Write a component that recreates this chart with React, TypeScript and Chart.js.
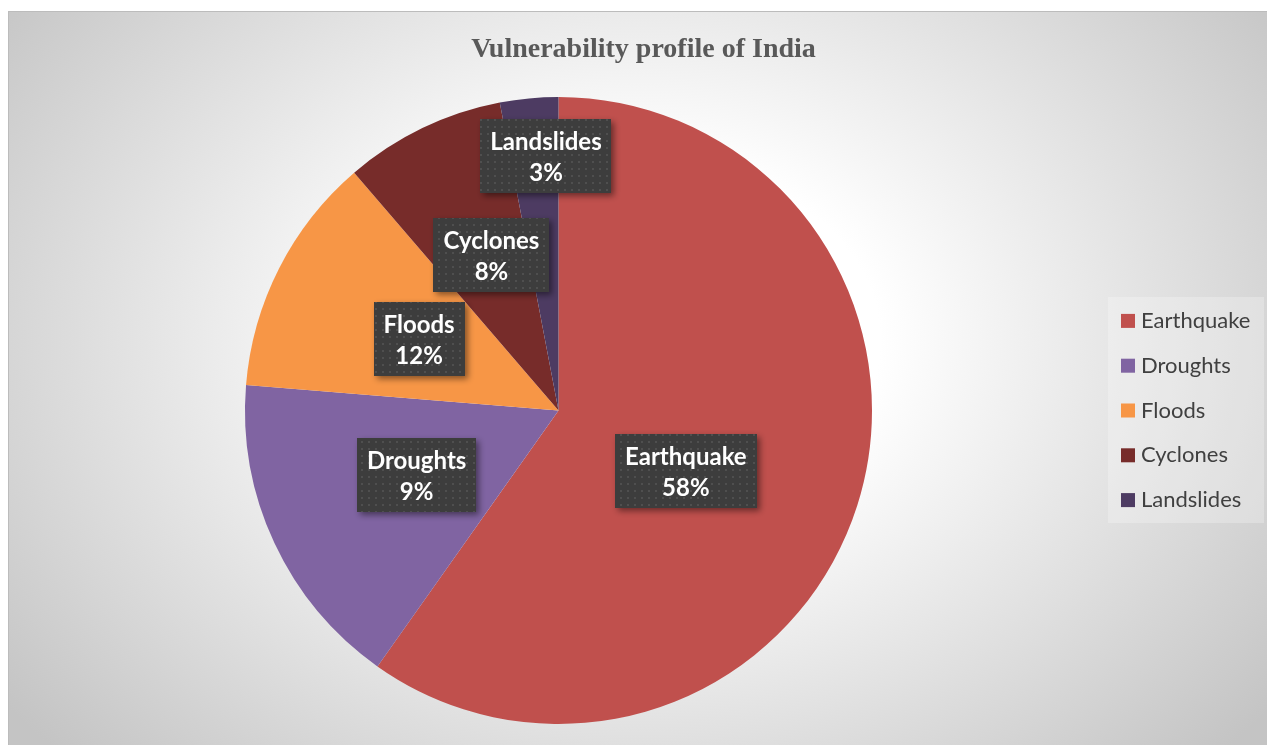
import React, { useEffect, useRef } from "react";
import { Chart, registerables } from "chart.js";

Chart.register(...registerables);

// ---- data ----
const categories = ["Earthquake", "Droughts", "Floods", "Cyclones", "Landslides"];
const sliceValues = [59.8, 16.5, 12.4, 8.3, 3.0];
const percentLabels = ["58%", "9%", "12%", "8%", "3%"];
const sliceColors = ["#c0504d", "#8064a2", "#f79646", "#772c2a", "#4d3b62"];
const chartTitle = "Vulnerability profile of India";

// ---- layout (not data) ----
const CANVAS_W = 1259;
const CANVAS_H = 734;
const labelRadial = [0.449, 0.497, 0.499, 0.54, 0.814];
const labelAngleShift = [7.6, 0.6, 0.0, 2.4, 2.6];

function makePattern(ctx: CanvasRenderingContext2D) {
  const c = document.createElement("canvas");
  c.width = 7;
  c.height = 7;
  const g = c.getContext("2d")!;
  g.fillStyle = "#3d3d3d";
  g.fillRect(0, 0, 7, 7);
  g.fillStyle = "#4f4f4f";
  g.fillRect(3, 3, 2, 2);
  return ctx.createPattern(c, "repeat")!;
}

const titlePlugin = {
  id: "customTitle",
  afterDraw(chart: any) {
    const ctx = chart.ctx as CanvasRenderingContext2D;
    ctx.save();
    ctx.font = 'bold 28px "Liberation Serif"';
    ctx.fillStyle = "#595959";
    ctx.textAlign = "center";
    ctx.textBaseline = "alphabetic";
    ctx.fillText(chartTitle, 635.5, 46);
    ctx.restore();
  },
};

const legendPlugin = {
  id: "customLegend",
  afterDraw(chart: any) {
    const ctx = chart.ctx as CanvasRenderingContext2D;
    const area = chart.chartArea;
    const cy = (area.top + area.bottom) / 2;
    const labels: string[] = chart.data.labels;
    const colors: string[] = chart.data.datasets[0].backgroundColor;
    const step = 44.8;
    ctx.save();
    ctx.fillStyle = "rgba(255,255,255,0.25)";
    ctx.fillRect(1100, cy - 113.5, 156, 226);
    ctx.font = '22px "Lato"';
    ctx.textAlign = "left";
    ctx.textBaseline = "middle";
    labels.forEach((lab, i) => {
      const yy = cy + (i - (labels.length - 1) / 2) * step;
      ctx.fillStyle = colors[i];
      ctx.fillRect(1113, yy - 7, 14, 14);
      ctx.fillStyle = "#404040";
      ctx.fillText(lab, 1133, yy);
    });
    ctx.restore();
  },
};

const labelPlugin = {
  id: "sliceLabels",
  afterDatasetsDraw(chart: any) {
    const ctx = chart.ctx as CanvasRenderingContext2D;
    const meta = chart.getDatasetMeta(0);
    const pattern = makePattern(ctx);
    ctx.save();
    ctx.font = 'bold 24px "Lato"';
    meta.data.forEach((arc: any, i: number) => {
      const { x, y, startAngle, endAngle, outerRadius } = arc.getProps(
        ["x", "y", "startAngle", "endAngle", "outerRadius"],
        true
      );
      const mid = (startAngle + endAngle) / 2 + (labelAngleShift[i] * Math.PI) / 180;
      const r = outerRadius * labelRadial[i];
      const cx = x + Math.cos(mid) * r;
      const cy = y + Math.sin(mid) * r;
      const lines = [chart.data.labels[i], percentLabels[i]];
      const w = Math.max(...lines.map((l) => ctx.measureText(l).width)) + 20;
      const h = 74;
      ctx.save();
      ctx.shadowColor = "rgba(0,0,0,0.45)";
      ctx.shadowBlur = 6;
      ctx.shadowOffsetX = 3;
      ctx.shadowOffsetY = 3;
      ctx.fillStyle = pattern;
      ctx.fillRect(Math.round(cx - w / 2), Math.round(cy - h / 2), Math.round(w), h);
      ctx.restore();
      ctx.fillStyle = "#ffffff";
      ctx.textAlign = "center";
      ctx.textBaseline = "alphabetic";
      ctx.fillText(lines[0], cx, cy - 6);
      ctx.fillText(lines[1], cx, cy + 25);
    });
    ctx.restore();
  },
};

export default function App() {
  const ref = useRef<HTMLCanvasElement | null>(null);

  useEffect(() => {
    document.documentElement.style.overflow = "hidden";
    const canvas = ref.current;
    if (!canvas) return;
    const chart = new Chart(canvas, {
      type: "pie",
      data: {
        labels: categories,
        datasets: [
          {
            data: sliceValues,
            backgroundColor: sliceColors,
            borderWidth: 0,
            hoverOffset: 0,
          },
        ],
      },
      options: {
        responsive: false,
        animation: false,
        layout: { padding: { left: 0, right: CANVAS_W - 1101, top: 86, bottom: CANVAS_H - 713 } },
        plugins: {
          legend: { display: false },
          title: { display: false },
          tooltip: { enabled: false },
        },
      },
      plugins: [labelPlugin, titlePlugin, legendPlugin],
    } as any);
    return () => chart.destroy();
  }, []);

  return (
    <div
      style={{
        position: "fixed",
        left: 8,
        top: 11,
        width: CANVAS_W,
        height: CANVAS_H,
        background:
          "radial-gradient(ellipse 800px 600px at 632px 329px, #ffffff 0%, #ffffff 30%, #c4c4c4 100%)",
        boxShadow: "inset 1px 1px 0 #bcbcbc",
      }}
    >
      <canvas ref={ref} width={CANVAS_W} height={CANVAS_H} style={{ display: "block" }} />
    </div>
  );
}
